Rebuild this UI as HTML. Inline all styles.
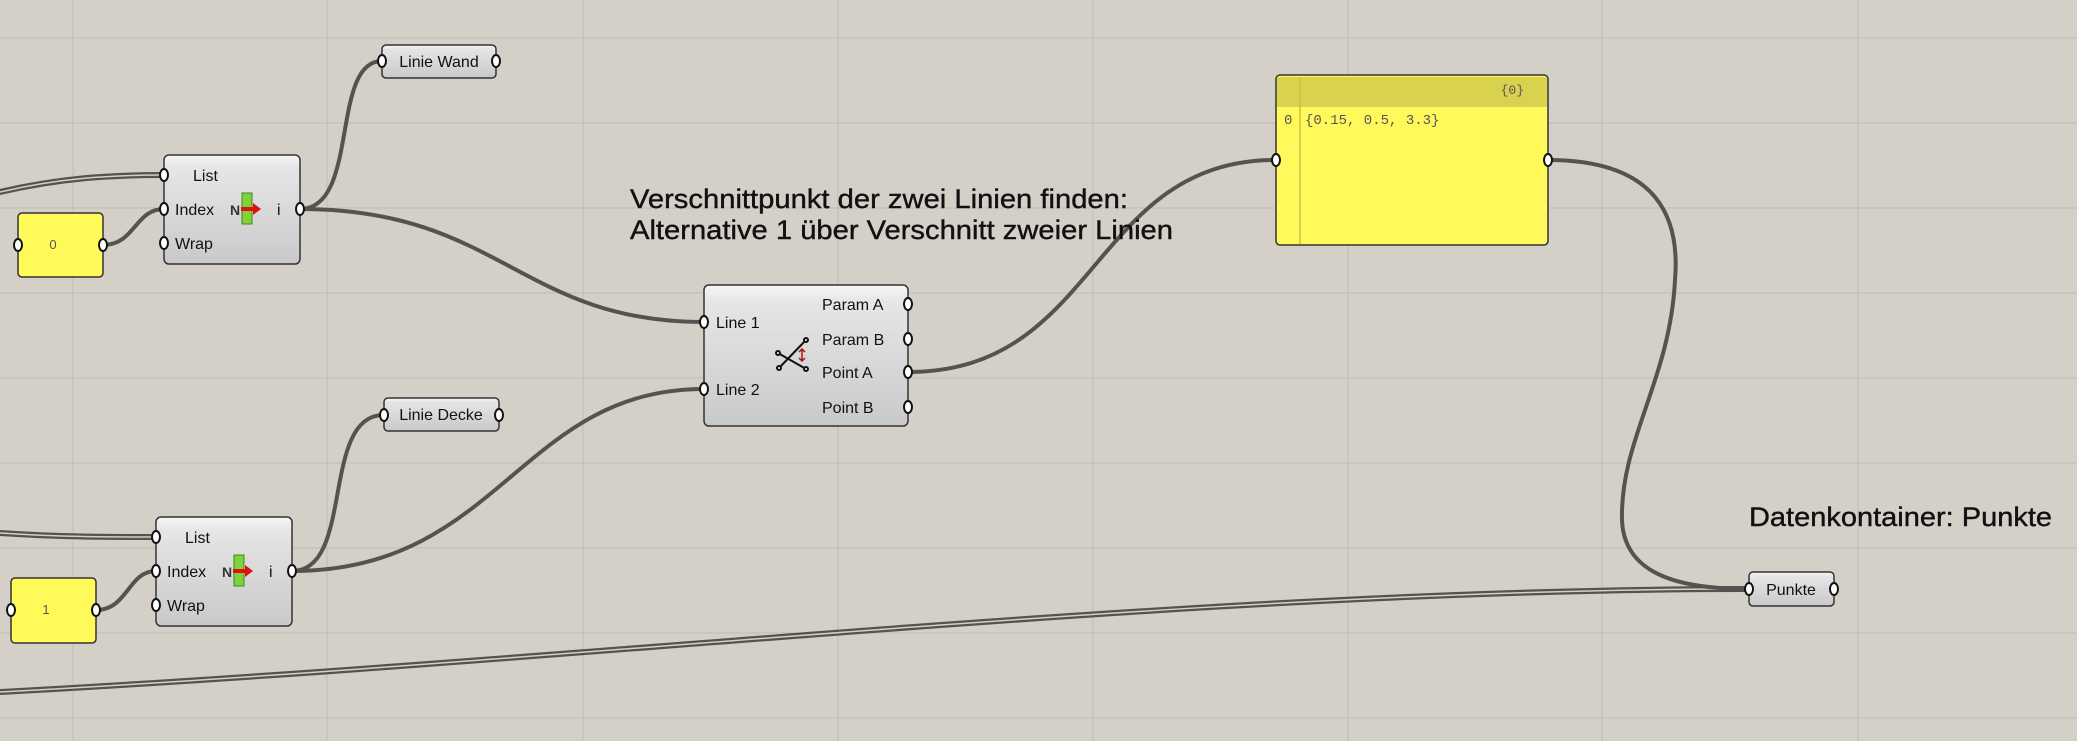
<!DOCTYPE html>
<html><head><meta charset="utf-8"><style>
html,body{margin:0;padding:0;background:#d4d0c8;}
svg{display:block}
text{font-family:"Liberation Sans",sans-serif;}
</style></head><body>
<svg width="2077" height="741" viewBox="0 0 2077 741" xmlns="http://www.w3.org/2000/svg">
<defs>
<linearGradient id="g" x1="0" y1="0" x2="0" y2="1">
<stop offset="0" stop-color="#f6f6f6"/><stop offset="0.12" stop-color="#e6e6e6"/><stop offset="1" stop-color="#c9c9c9"/>
</linearGradient>
</defs>
<rect width="2077" height="741" fill="#d4d0c8"/>
<g stroke="#bfbbb3" stroke-width="1">
<line x1="73" y1="0" x2="73" y2="741"/><line x1="327" y1="0" x2="327" y2="741"/><line x1="583" y1="0" x2="583" y2="741"/><line x1="838" y1="0" x2="838" y2="741"/><line x1="1093" y1="0" x2="1093" y2="741"/><line x1="1348" y1="0" x2="1348" y2="741"/><line x1="1602" y1="0" x2="1602" y2="741"/><line x1="1858" y1="0" x2="1858" y2="741"/>
<line x1="0" y1="38" x2="2077" y2="38"/><line x1="0" y1="123" x2="2077" y2="123"/><line x1="0" y1="208" x2="2077" y2="208"/><line x1="0" y1="293" x2="2077" y2="293"/><line x1="0" y1="378" x2="2077" y2="378"/><line x1="0" y1="463" x2="2077" y2="463"/><line x1="0" y1="548" x2="2077" y2="548"/><line x1="0" y1="633" x2="2077" y2="633"/><line x1="0" y1="718" x2="2077" y2="718"/>
</g>

<!-- wires -->
<g fill="none" stroke="#55534f" stroke-linecap="round">
<g stroke-width="6">
<path d="M0 192 C60 178 110 175 164 175"/>
<path d="M0 533 C60 537 110 537 156 537"/>
<path d="M0 692 C600 660 1200 589 1749 589"/>
</g>
<g stroke="#d4d0c8" stroke-width="1.5">
<path d="M0 192 C60 178 110 175 164 175"/>
<path d="M0 533 C60 537 110 537 156 537"/>
<path d="M0 692 C600 660 1200 589 1749 589"/>
</g>
<g stroke-width="4">
<path d="M103 245 C135 245 135 209 164 209"/>
<path d="M96 610 C128 610 128 571 156 571"/>
<path d="M300 209 C360 209 330 61 382 61"/>
<path d="M300 209 C500 209 520 322 704 322"/>
<path d="M292 571 C355 571 320 415 384 415"/>
<path d="M292 571 C500 571 520 389 704 389"/>
<path d="M908 372 C1100 372 1090 160 1276 160"/>
<path d="M1548 160 C1660 160 1680 220 1675 280 C1670 380 1620 440 1622 520 C1624 575 1680 589 1749 589"/>
</g>
</g>

<rect x="382" y="45" width="114" height="33" rx="4" fill="url(#g)" stroke="#333" stroke-width="1.5"/>
<text x="439" y="67" font-size="16" text-anchor="middle" fill="#111">Linie Wand</text>
<rect x="384" y="398" width="115" height="33" rx="4" fill="url(#g)" stroke="#333" stroke-width="1.5"/>
<text x="441" y="420" font-size="16" text-anchor="middle" fill="#111">Linie Decke</text>
<rect x="1749" y="572" width="85" height="34" rx="4" fill="url(#g)" stroke="#333" stroke-width="1.5"/>
<text x="1791" y="595" font-size="16" text-anchor="middle" fill="#111">Punkte</text>

<rect x="18" y="213" width="85" height="64" rx="4" fill="#fffa5a" stroke="#333" stroke-width="1.5"/>
<text x="53" y="249" font-size="13" text-anchor="middle" fill="#555">0</text>
<rect x="11" y="578" width="85" height="65" rx="4" fill="#fffa5a" stroke="#333" stroke-width="1.5"/>
<text x="46" y="614" font-size="13" text-anchor="middle" fill="#555">1</text>

<rect x="164" y="155" width="136" height="109" rx="5" fill="url(#g)" stroke="#333" stroke-width="1.5"/>
<text x="193" y="181" font-size="16" fill="#111">List</text>
<text x="175" y="215" font-size="16" fill="#111">Index</text>
<text x="175" y="249" font-size="16" fill="#111">Wrap</text>
<text x="277" y="215" font-size="16" fill="#111">i</text>
<text x="230" y="215" font-size="14" font-weight="bold" fill="#333">N</text>
<rect x="242" y="193" width="10" height="31" fill="#7fd23a" stroke="#3a8a1a"/>
<path d="M241 207 h12 v-4 l8 6 -8 6 v-4 h-12z" fill="#e01010"/>
<rect x="156" y="517" width="136" height="109" rx="5" fill="url(#g)" stroke="#333" stroke-width="1.5"/>
<text x="185" y="543" font-size="16" fill="#111">List</text>
<text x="167" y="577" font-size="16" fill="#111">Index</text>
<text x="167" y="611" font-size="16" fill="#111">Wrap</text>
<text x="269" y="577" font-size="16" fill="#111">i</text>
<text x="222" y="577" font-size="14" font-weight="bold" fill="#333">N</text>
<rect x="234" y="555" width="10" height="31" fill="#7fd23a" stroke="#3a8a1a"/>
<path d="M233 569 h12 v-4 l8 6 -8 6 v-4 h-12z" fill="#e01010"/>

<rect x="704" y="285" width="204" height="141" rx="5" fill="url(#g)" stroke="#333" stroke-width="1.5"/>
<text x="716" y="328" font-size="16" fill="#111">Line 1</text>
<text x="716" y="395" font-size="16" fill="#111">Line 2</text>
<text x="822" y="310" font-size="16" fill="#111">Param A</text>
<text x="822" y="345" font-size="16" fill="#111">Param B</text>
<text x="822" y="378" font-size="16" fill="#111">Point A</text>
<text x="822" y="413" font-size="16" fill="#111">Point B</text>
<g stroke="#111" stroke-width="2" fill="#fff">
<line x1="779" y1="368" x2="806" y2="340"/><line x1="778" y1="353" x2="806" y2="369"/>
<circle cx="806" cy="340" r="2"/><circle cx="778" cy="353" r="2"/><circle cx="779" cy="368" r="2"/><circle cx="806" cy="369" r="2"/>
</g>
<path d="M802 349 v12 M799 352 l3 -3 3 3 M799 358 l3 3 3 -3" stroke="#b01010" stroke-width="1.5" fill="none"/>

<rect x="1276" y="75" width="272" height="170" rx="4" fill="#fff95c" stroke="#333" stroke-width="1.5"/>
<rect x="1277" y="77" width="270" height="30" fill="#d9d24e"/>
<line x1="1300" y1="77" x2="1300" y2="244" stroke="#c9c23f" stroke-width="1.5"/>
<text x="1524" y="94" font-size="13" text-anchor="end" fill="#555" style="font-family:'Liberation Mono',monospace">{0}</text>
<text x="1284" y="124" font-size="14" fill="#555" style="font-family:'Liberation Mono',monospace">0</text>
<text x="1305" y="124" font-size="14" fill="#555" style="font-family:'Liberation Mono',monospace">{0.15, 0.5, 3.3}</text>

<g fill="#fff" stroke="#111" stroke-width="2">
<ellipse cx="164" cy="175" rx="4" ry="6"/><ellipse cx="164" cy="209" rx="4" ry="6"/><ellipse cx="164" cy="243" rx="4" ry="6"/><ellipse cx="300" cy="209" rx="4" ry="6"/>
<ellipse cx="156" cy="537" rx="4" ry="6"/><ellipse cx="156" cy="571" rx="4" ry="6"/><ellipse cx="156" cy="605" rx="4" ry="6"/><ellipse cx="292" cy="571" rx="4" ry="6"/>
<ellipse cx="18" cy="245" rx="4" ry="6"/><ellipse cx="103" cy="245" rx="4" ry="6"/>
<ellipse cx="11" cy="610" rx="4" ry="6"/><ellipse cx="96" cy="610" rx="4" ry="6"/>
<ellipse cx="382" cy="61" rx="4" ry="6"/><ellipse cx="496" cy="61" rx="4" ry="6"/>
<ellipse cx="384" cy="415" rx="4" ry="6"/><ellipse cx="499" cy="415" rx="4" ry="6"/>
<ellipse cx="704" cy="322" rx="4" ry="6"/><ellipse cx="704" cy="389" rx="4" ry="6"/>
<ellipse cx="908" cy="304" rx="4" ry="6"/><ellipse cx="908" cy="339" rx="4" ry="6"/><ellipse cx="908" cy="372" rx="4" ry="6"/><ellipse cx="908" cy="407" rx="4" ry="6"/>
<ellipse cx="1276" cy="160" rx="4" ry="6"/><ellipse cx="1548" cy="160" rx="4" ry="6"/>
<ellipse cx="1749" cy="589" rx="4" ry="6"/><ellipse cx="1834" cy="589" rx="4" ry="6"/>
</g>

<text x="630" y="208" font-size="27" fill="#111" stroke="#111" stroke-width="0.4" textLength="498" lengthAdjust="spacingAndGlyphs">Verschnittpunkt der zwei Linien finden:</text>
<text x="630" y="239" font-size="27" fill="#111" stroke="#111" stroke-width="0.4" textLength="543" lengthAdjust="spacingAndGlyphs">Alternative 1 über Verschnitt zweier Linien</text>
<text x="1749" y="526" font-size="27" fill="#111" stroke="#111" stroke-width="0.4" textLength="303" lengthAdjust="spacingAndGlyphs">Datenkontainer: Punkte</text>
</svg>
</body></html>
